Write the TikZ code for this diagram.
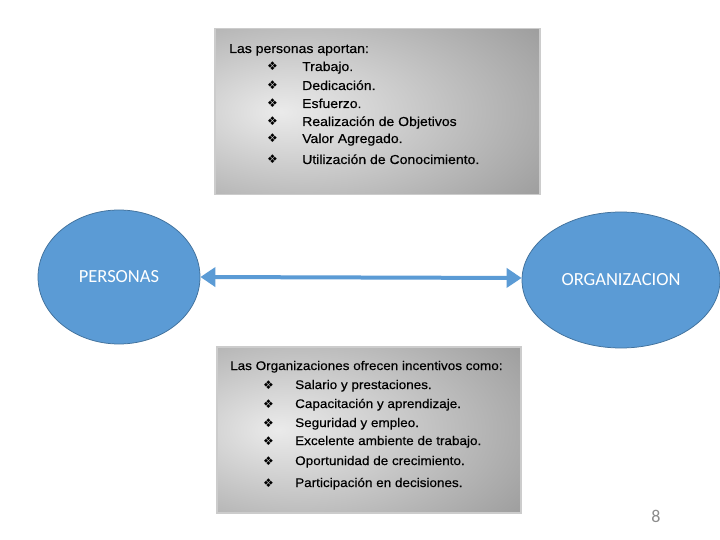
\documentclass[tikz,border=0pt]{standalone}
\usepackage{fontspec}
\setmainfont{Liberation Sans}
\newfontfamily\calibri{Carlito}
\newfontfamily\symb{DejaVu Sans}
\newfontfamily\boxfont[FakeStretch=1.08,FakeBold=0.4]{Liberation Sans}
\usetikzlibrary{shapes.geometric,arrows.meta}

\definecolor{slideblue}{HTML}{5B9BD5}
\definecolor{slideedge}{HTML}{41719C}
\pgfdeclareradialshading{boxglow}{\pgfpoint{-15bp}{0bp}}{%
  color(0bp)=(black!8); color(35bp)=(black!33);
  color(65bp)=(black!55); color(100bp)=(black!62)}
\newcommand{\itm}[1][35pt]{\makebox[#1][l]{{\symb\fontsize{12}{12}\selectfont ❖}}}

\begin{document}
\begin{tikzpicture}[x=1pt, y=-1pt,
    party/.style={ellipse, draw=slideedge, line width=0.75pt, fill=slideblue,
      text=white, font=\calibri\fontsize{18.5}{20}\selectfont},
    panel/.style={draw=black!20, line width=1.5pt, shading=boxglow,
      anchor=north west, inner sep=0pt},
    line/.style={anchor=base west, inner sep=0pt, text=black,
      font=\boxfont\fontsize{13}{15}\selectfont},
    smallline/.style={line, font=\boxfont\fontsize{12.5}{15}\selectfont},
    link/.style={draw=slideblue, line width=4pt,
      {Triangle[length=15pt,width=19pt]}-{Triangle[length=15pt,width=19pt]}}]
  \useasboundingbox[fill=white] (0,0) rectangle (720,540);

  \node[party, minimum width=162pt, minimum height=134pt] (pers) at (119,277) {PERSONAS};
  \node[party, minimum width=198pt, minimum height=136pt] (org)  at (621,280) {ORGANIZACION};

  \draw[link] (pers.east) -- ([yshift=2pt]org.west);

  % what people give
  \node[panel, minimum width=325pt, minimum height=166pt] (give) at (214,28) {};
  \node[line] (givehead) at (229,53)  {Las personas aportan:};
  \node[line] (give1)    at (267,71)  {\itm Trabajo.};
  \node[line] (give2)    at (267,90)  {\itm Dedicación.};
  \node[line] (give3)    at (267,108) {\itm Esfuerzo.};
  \node[line] (give4)    at (267,126) {\itm Realización de Objetivos};
  \node[line] (give5)    at (267,143) {\itm Valor Agregado.};
  \node[line] (give6)    at (267,164) {\itm Utilización de Conocimiento.};

  % what the organization offers
  \node[panel, minimum width=304pt, minimum height=166pt] (offer) at (216,346) {};
  \node[smallline] (offerhead) at (230,370) {Las Organizaciones ofrecen incentivos como:};
  \node[smallline] (offer1)    at (263,389) {\itm[32pt]Salario y prestaciones.};
  \node[smallline] (offer2)    at (263,408) {\itm[32pt]Capacitación y aprendizaje.};
  \node[smallline] (offer3)    at (263,427) {\itm[32pt]Seguridad y empleo.};
  \node[smallline] (offer4)    at (263,445) {\itm[32pt]Excelente ambiente de trabajo.};
  \node[smallline] (offer5)    at (263,465) {\itm[32pt]Oportunidad de crecimiento.};
  \node[smallline] (offer6)    at (263,487) {\itm[32pt]Participación en decisiones.};

  \node[anchor=base, text=black!45, font=\calibri\fontsize{18}{20}\selectfont] (pagenum) at (656,522) {8};
\end{tikzpicture}
\end{document}
